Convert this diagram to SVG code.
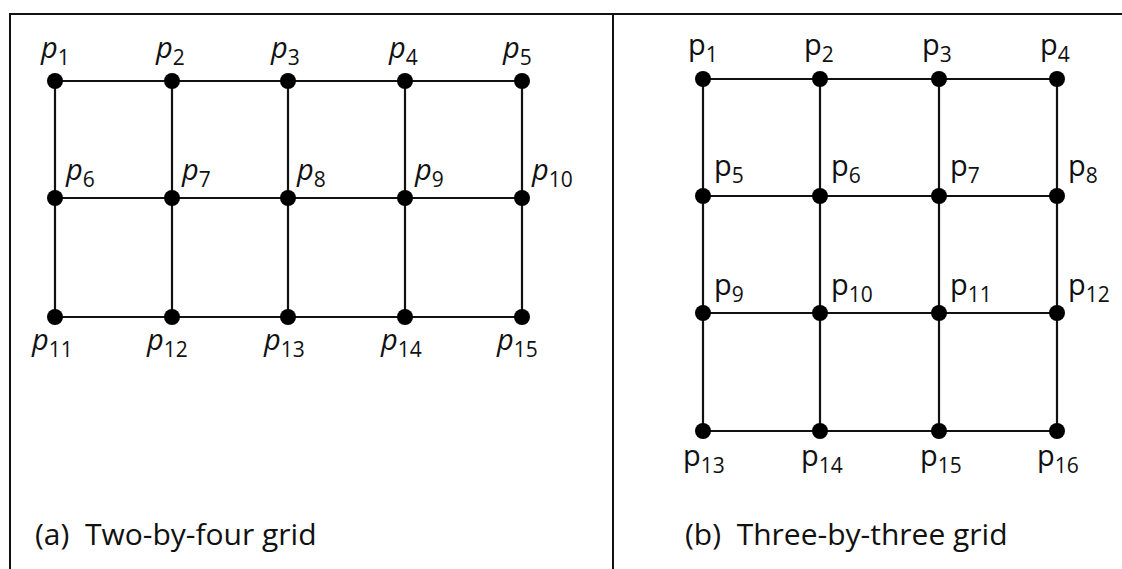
<svg xmlns="http://www.w3.org/2000/svg" width="1122" height="569" viewBox="0 0 1122 569">
<style>
.frame{stroke:#111;stroke-width:2;fill:none}
.edge{stroke:#111;stroke-width:2.2;fill:none}
.dot{fill:#000}
.lbl{font-family:"Open Sans","DejaVu Sans",sans-serif;fill:#111;font-size:29px}
.it{font-style:italic}
.sub{font-size:21px;font-style:normal}
.cap{font-family:"Open Sans","DejaVu Sans",sans-serif;fill:#111;font-size:30px;white-space:pre}
</style>
<rect width="1122" height="569" fill="#fff"/>
<g id="frame">
<line class="frame" x1="10" y1="14" x2="1122" y2="14"/>
<line class="frame" x1="10" y1="13" x2="10" y2="569"/>
<line class="frame" x1="613" y1="14" x2="613" y2="569"/>
</g>
<g id="connectors">
<line class="edge" x1="55" y1="81" x2="522" y2="81"/>
<line class="edge" x1="55" y1="198" x2="522" y2="198"/>
<line class="edge" x1="55" y1="317" x2="522" y2="317"/>
<line class="edge" x1="55" y1="81" x2="55" y2="317"/>
<line class="edge" x1="172" y1="81" x2="172" y2="317"/>
<line class="edge" x1="288" y1="81" x2="288" y2="317"/>
<line class="edge" x1="405" y1="81" x2="405" y2="317"/>
<line class="edge" x1="522" y1="81" x2="522" y2="317"/>
<line class="edge" x1="703" y1="79" x2="1057" y2="79"/>
<line class="edge" x1="703" y1="196" x2="1057" y2="196"/>
<line class="edge" x1="703" y1="313" x2="1057" y2="313"/>
<line class="edge" x1="703" y1="431" x2="1057" y2="431"/>
<line class="edge" x1="703" y1="79" x2="703" y2="431"/>
<line class="edge" x1="820" y1="79" x2="820" y2="431"/>
<line class="edge" x1="939" y1="79" x2="939" y2="431"/>
<line class="edge" x1="1057" y1="79" x2="1057" y2="431"/>
</g>
<g id="a-p1"><circle class="dot" cx="55" cy="81" r="8"/><text class="lbl" x="41" y="58"><tspan class="it">p</tspan><tspan class="sub" dy="7">1</tspan></text></g>
<g id="a-p2"><circle class="dot" cx="172" cy="81" r="8"/><text class="lbl" x="156" y="58"><tspan class="it">p</tspan><tspan class="sub" dy="7">2</tspan></text></g>
<g id="a-p3"><circle class="dot" cx="288" cy="81" r="8"/><text class="lbl" x="271" y="58"><tspan class="it">p</tspan><tspan class="sub" dy="7">3</tspan></text></g>
<g id="a-p4"><circle class="dot" cx="405" cy="81" r="8"/><text class="lbl" x="389" y="58"><tspan class="it">p</tspan><tspan class="sub" dy="7">4</tspan></text></g>
<g id="a-p5"><circle class="dot" cx="522" cy="81" r="8"/><text class="lbl" x="503" y="58"><tspan class="it">p</tspan><tspan class="sub" dy="7">5</tspan></text></g>
<g id="a-p6"><circle class="dot" cx="55" cy="198" r="8"/><text class="lbl" x="66" y="180"><tspan class="it">p</tspan><tspan class="sub" dy="7">6</tspan></text></g>
<g id="a-p7"><circle class="dot" cx="172" cy="198" r="8"/><text class="lbl" x="182" y="180"><tspan class="it">p</tspan><tspan class="sub" dy="7">7</tspan></text></g>
<g id="a-p8"><circle class="dot" cx="288" cy="198" r="8"/><text class="lbl" x="297" y="180"><tspan class="it">p</tspan><tspan class="sub" dy="7">8</tspan></text></g>
<g id="a-p9"><circle class="dot" cx="405" cy="198" r="8"/><text class="lbl" x="415" y="180"><tspan class="it">p</tspan><tspan class="sub" dy="7">9</tspan></text></g>
<g id="a-p10"><circle class="dot" cx="522" cy="198" r="8"/><text class="lbl" x="532" y="180"><tspan class="it">p</tspan><tspan class="sub" dy="7">10</tspan></text></g>
<g id="a-p11"><circle class="dot" cx="55" cy="317" r="8"/><text class="lbl" x="32" y="350"><tspan class="it">p</tspan><tspan class="sub" dy="7">11</tspan></text></g>
<g id="a-p12"><circle class="dot" cx="172" cy="317" r="8"/><text class="lbl" x="147" y="350"><tspan class="it">p</tspan><tspan class="sub" dy="7">12</tspan></text></g>
<g id="a-p13"><circle class="dot" cx="288" cy="317" r="8"/><text class="lbl" x="264" y="350"><tspan class="it">p</tspan><tspan class="sub" dy="7">13</tspan></text></g>
<g id="a-p14"><circle class="dot" cx="405" cy="317" r="8"/><text class="lbl" x="381" y="350"><tspan class="it">p</tspan><tspan class="sub" dy="7">14</tspan></text></g>
<g id="a-p15"><circle class="dot" cx="522" cy="317" r="8"/><text class="lbl" x="497" y="350"><tspan class="it">p</tspan><tspan class="sub" dy="7">15</tspan></text></g>
<g id="b-p1"><circle class="dot" cx="703" cy="79" r="8"/><text class="lbl" x="688" y="55">p<tspan class="sub" dy="7">1</tspan></text></g>
<g id="b-p2"><circle class="dot" cx="820" cy="79" r="8"/><text class="lbl" x="804" y="55">p<tspan class="sub" dy="7">2</tspan></text></g>
<g id="b-p3"><circle class="dot" cx="939" cy="79" r="8"/><text class="lbl" x="922" y="55">p<tspan class="sub" dy="7">3</tspan></text></g>
<g id="b-p4"><circle class="dot" cx="1057" cy="79" r="8"/><text class="lbl" x="1040" y="55">p<tspan class="sub" dy="7">4</tspan></text></g>
<g id="b-p5"><circle class="dot" cx="703" cy="196" r="8"/><text class="lbl" x="714" y="176">p<tspan class="sub" dy="7">5</tspan></text></g>
<g id="b-p6"><circle class="dot" cx="820" cy="196" r="8"/><text class="lbl" x="831" y="176">p<tspan class="sub" dy="7">6</tspan></text></g>
<g id="b-p7"><circle class="dot" cx="939" cy="196" r="8"/><text class="lbl" x="950" y="176">p<tspan class="sub" dy="7">7</tspan></text></g>
<g id="b-p8"><circle class="dot" cx="1057" cy="196" r="8"/><text class="lbl" x="1068" y="176">p<tspan class="sub" dy="7">8</tspan></text></g>
<g id="b-p9"><circle class="dot" cx="703" cy="313" r="8"/><text class="lbl" x="714" y="295">p<tspan class="sub" dy="7">9</tspan></text></g>
<g id="b-p10"><circle class="dot" cx="820" cy="313" r="8"/><text class="lbl" x="831" y="295">p<tspan class="sub" dy="7">10</tspan></text></g>
<g id="b-p11"><circle class="dot" cx="939" cy="313" r="8"/><text class="lbl" x="950" y="295">p<tspan class="sub" dy="7">11</tspan></text></g>
<g id="b-p12"><circle class="dot" cx="1057" cy="313" r="8"/><text class="lbl" x="1068" y="295">p<tspan class="sub" dy="7">12</tspan></text></g>
<g id="b-p13"><circle class="dot" cx="703" cy="431" r="8"/><text class="lbl" x="683" y="466">p<tspan class="sub" dy="7">13</tspan></text></g>
<g id="b-p14"><circle class="dot" cx="820" cy="431" r="8"/><text class="lbl" x="801" y="466">p<tspan class="sub" dy="7">14</tspan></text></g>
<g id="b-p15"><circle class="dot" cx="939" cy="431" r="8"/><text class="lbl" x="920" y="466">p<tspan class="sub" dy="7">15</tspan></text></g>
<g id="b-p16"><circle class="dot" cx="1057" cy="431" r="8"/><text class="lbl" x="1037" y="466">p<tspan class="sub" dy="7">16</tspan></text></g>
<g id="captions">
<text class="cap" x="35" y="545" xml:space="preserve">(a)  Two-by-four grid</text>
<text class="cap" x="685" y="545" xml:space="preserve">(b)  Three-by-three grid</text>
</g>
</svg>
